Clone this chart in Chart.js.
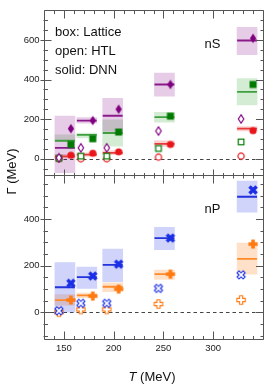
<!DOCTYPE html>
<html>
<head>
<meta charset="utf-8">
<script src="https://cdn.jsdelivr.net/npm/chart.js@4"></script>
<style>
    html, body { margin: 0; padding: 0; background: #fff; }
    canvas { display: block; }
</style>
</head>
<body>
<canvas id="widthCanvas" width="274" height="384"></canvas>
<script>
// Thermal widths of bottomonium, nS (top) and nP (bottom)
// box = lattice, open = HTL, solid = DNN

var temps = [151, 173, 199, 251, 334]; // MeV
var halfBin = 10;   // lattice boxes cover T +- 10 MeV
var shift = 6;      // HTL drawn left of T, DNN right of T

// nS panel
var lat1S   = [12, 21, 30, 75, 152];
var lat1SLo = [4, 12, 21, 62, 140];
var lat1SHi = [22, 30, 40, 90, 163];
var lat2S   = [91, 121, 130, 210, 338];
var lat2SLo = [88, 105, 63, 185, 272];
var lat2SHi = [121, 130, 196, 235, 405];
var lat3S   = [55, 193, 217, 375, 597];
var lat3SLo = [-70, 180, 138, 316, 525];
var lat3SHi = [216, 208, 305, 433, 663];
var dnn1S = [18, 28, 35, 72, 142];
var dnn2S = [72, 101, 135, 215, 375];
var dnn3S = [152, 193, 250, 375, 608];
var htl1S = [0, 0, 0, 8, 13];
var htl2S = [2, 13, 13, 52, 85];
var htl3S = [5, 55, 55, 140, 201];

// nP panel
var lat1P   = [52, 72, 109, 163, 229];
var lat1PLo = [30, 62, 88, 141, 163];
var lat1PHi = [75, 82, 126, 181, 296];
var lat2P   = [107, 150, 203, 318, 495];
var lat2PLo = [0, 102, 131, 268, 429];
var lat2PHi = [213, 193, 271, 364, 562];
var dnn1P = [52, 69, 99, 163, 292];
var dnn2P = [124, 155, 206, 318, 524];
var htl1P = [0, 12, 12, 35, 52];
var htl2P = [6, 38, 38, 102, 160];

// tick labels
var xTicks = [150, 200, 250, 300];
var yTicksS = [0, 200, 400, 600];
var yTicksP = [0, 200, 400];

var legendLines = ['box: Lattice', 'open: HTL', 'solid: DNN'];

var purple = '#800080', green = '#007a00', red = '#e8161b', blue = '#1a2ee6', orange = '#ff7a10';
var axisColor = '#555';
var fontFam = '"Liberation Sans", Arial, Helvetica, sans-serif';


// small canvases used as point styles
function makeMarker(draw) {
    var c = document.createElement('canvas');
    c.width = 14; c.height = 14;
    var g = c.getContext('2d');
    g.translate(7, 7);
    draw(g);
    return c;
}

function plusPath(g, a, w) {
    g.beginPath();
    g.moveTo(-w, -a); g.lineTo(w, -a); g.lineTo(w, -w); g.lineTo(a, -w);
    g.lineTo(a, w); g.lineTo(w, w); g.lineTo(w, a); g.lineTo(-w, a);
    g.lineTo(-w, w); g.lineTo(-a, w); g.lineTo(-a, -w); g.lineTo(-w, -w);
    g.closePath();
}

function diamondPath(g, w, h) {
    g.beginPath();
    g.moveTo(0, -h); g.lineTo(w, 0); g.lineTo(0, h); g.lineTo(-w, 0);
    g.closePath();
}

var mk = {
    diamondSolid: makeMarker(function (g) { diamondPath(g, 3.2, 4.8); g.fillStyle = purple; g.fill(); }),
    diamondOpen: makeMarker(function (g) { diamondPath(g, 2.7, 4.2); g.fillStyle = '#fff'; g.fill(); g.strokeStyle = purple; g.lineWidth = 1.2; g.stroke(); }),
    squareSolid: makeMarker(function (g) { g.fillStyle = green; g.fillRect(-3.5, -3.5, 7, 7); }),
    squareOpen: makeMarker(function (g) { g.fillStyle = '#fff'; g.fillRect(-2.8, -2.8, 5.6, 5.6); g.strokeStyle = green; g.lineWidth = 1.2; g.strokeRect(-2.8, -2.8, 5.6, 5.6); }),
    circleSolid: makeMarker(function (g) { g.beginPath(); g.arc(0, 0, 3.6, 0, 2 * Math.PI); g.fillStyle = red; g.fill(); }),
    circleOpen: makeMarker(function (g) { g.beginPath(); g.arc(0, 0, 3.1, 0, 2 * Math.PI); g.fillStyle = '#fff'; g.fill(); g.strokeStyle = red; g.lineWidth = 1.2; g.stroke(); }),
    crossSolid: makeMarker(function (g) { g.rotate(Math.PI / 4); plusPath(g, 5, 1.7); g.fillStyle = blue; g.fill(); }),
    crossOpen: makeMarker(function (g) { g.rotate(Math.PI / 4); plusPath(g, 4.3, 1.4); g.fillStyle = '#fff'; g.fill(); g.strokeStyle = blue; g.lineWidth = 1.1; g.stroke(); }),
    plusSolid: makeMarker(function (g) { plusPath(g, 4.6, 1.8); g.fillStyle = orange; g.fill(); }),
    plusOpen: makeMarker(function (g) { plusPath(g, 4.2, 1.6); g.fillStyle = '#fff'; g.fill(); g.strokeStyle = orange; g.lineWidth = 1.1; g.stroke(); })
};


function boxSet(lo, hi, axis, color) {
    return {
        type: 'bar',
        yAxisID: axis,
        data: temps.map(function (t, i) { return { x: t, y: [lo[i], hi[i]] }; }),
        backgroundColor: color,
        borderWidth: 0,
        barThickness: 20,
        grouped: false,
        order: 3
    };
}

function centralSet(vals, axis, color) {
    var pts = [];
    temps.forEach(function (t, i) {
        pts.push({ x: t - halfBin, y: vals[i] }, { x: t + halfBin, y: vals[i] }, { x: t + halfBin, y: null });
    });
    return {
        type: 'line',
        yAxisID: axis,
        data: pts,
        borderColor: color,
        borderWidth: 1.8,
        pointRadius: 0,
        spanGaps: false,
        order: 2
    };
}

function markerSet(vals, axis, dx, style) {
    return {
        type: 'scatter',
        yAxisID: axis,
        data: temps.map(function (t, i) { return { x: t + dx, y: vals[i] }; }),
        pointStyle: style,
        pointRadius: 5,
        order: 1
    };
}

var datasets = [
    boxSet(lat3SLo, lat3SHi, 'yS', 'rgba(128,0,128,0.2)'),
    boxSet(lat2SLo, lat2SHi, 'yS', 'rgba(0,140,0,0.17)'),
    boxSet(lat1SLo, lat1SHi, 'yS', 'rgba(235,20,20,0.2)'),
    boxSet(lat2PLo, lat2PHi, 'yP', 'rgba(40,60,230,0.22)'),
    boxSet(lat1PLo, lat1PHi, 'yP', 'rgba(255,130,30,0.24)'),

    centralSet(lat3S, 'yS', '#8a1a8a'),
    centralSet(lat2S, 'yS', '#3f9f3f'),
    centralSet(lat1S, 'yS', '#e83a3c'),
    centralSet(lat2P, 'yP', '#2233dd'),
    centralSet(lat1P, 'yP', '#ff8a2a'),

    markerSet(htl3S, 'yS', -shift, mk.diamondOpen),
    markerSet(htl2S, 'yS', -shift, mk.squareOpen),
    markerSet(htl1S, 'yS', -shift, mk.circleOpen),
    markerSet(dnn3S, 'yS', shift, mk.diamondSolid),
    markerSet(dnn2S, 'yS', shift, mk.squareSolid),
    markerSet(dnn1S, 'yS', shift, mk.circleSolid),
    markerSet(htl2P, 'yP', -shift, mk.crossOpen),
    markerSet(htl1P, 'yP', -shift, mk.plusOpen),
    markerSet(dnn2P, 'yP', shift, mk.crossSolid),
    markerSet(dnn1P, 'yP', shift, mk.plusSolid)
];


function crisp(v) { return Math.round(v) + 0.5; }

// frame, inward ticks (major + minor), zero lines and annotations
var framePlugin = {
    id: 'frame',
    beforeDatasetsDraw: function (chart) {
        var ctx = chart.ctx, a = chart.chartArea;
        ctx.save();
        ctx.strokeStyle = '#444';
        ctx.lineWidth = 1;
        ctx.setLineDash([3.5, 3]);
        ['yS', 'yP'].forEach(function (id) {
            var y = crisp(chart.scales[id].getPixelForValue(0));
            ctx.beginPath();
            ctx.moveTo(a.left, y);
            ctx.lineTo(a.right, y);
            ctx.stroke();
        });
        ctx.restore();
    },
    afterDraw: function (chart) {
        var ctx = chart.ctx, a = chart.chartArea;
        var xs = chart.scales.x, yS = chart.scales.yS, yP = chart.scales.yP;
        var mid = crisp(yS.bottom);
        var L = crisp(a.left), R = crisp(a.right), T = crisp(a.top), B = crisp(a.bottom);
        ctx.save();
        ctx.strokeStyle = axisColor;
        ctx.lineWidth = 1;
        ctx.beginPath();
        ctx.rect(L, T, R - L, B - T);
        ctx.moveTo(L, mid); ctx.lineTo(R, mid);
        ctx.stroke();

        ctx.beginPath();
        for (var v = xs.min; v <= xs.max; v += 10) {
            var px = crisp(xs.getPixelForValue(v));
            var major = v % 50 === 0;
            var len = major ? 8 : 3.5;
            ctx.moveTo(px, B); ctx.lineTo(px, B - len);
            ctx.moveTo(px, T); ctx.lineTo(px, T + len);
            ctx.moveTo(px, mid - (major ? 6 : 2.5)); ctx.lineTo(px, mid + (major ? 8 : 3));
        }
        [yS, yP].forEach(function (s) {
            for (var w = Math.ceil(s.min / 50) * 50; w <= s.max; w += 50) {
                var py = crisp(s.getPixelForValue(w));
                if (py <= s.top + 1 || py >= s.bottom - 1) continue;
                var maj = w % 200 === 0;
                ctx.moveTo(L - (maj ? 4 : 1), py); ctx.lineTo(L + (maj ? 7 : 3.5), py);
                ctx.moveTo(R, py); ctx.lineTo(R - (maj ? 7.5 : 3), py);
            }
        });
        ctx.stroke();

        // annotations
        ctx.fillStyle = '#111';
        ctx.font = '13px ' + fontFam;
        ctx.textBaseline = 'middle';
        ctx.textAlign = 'left';
        legendLines.forEach(function (txt, i) {
            ctx.fillText(txt, a.left + 11, a.top + 22 + i * 19.2);
        });
        ctx.textAlign = 'right';
        ctx.fillText('nS', a.right - 42.5, yS.top + 34.5);
        ctx.fillText('nP', a.right - 42.5, yP.top + 34.5);

        // x title with italic T
        ctx.textAlign = 'left';
        var tPart = 'T', rest = ' (MeV)';
        ctx.font = 'italic 13px ' + fontFam;
        var w1 = ctx.measureText(tPart).width;
        ctx.font = '13px ' + fontFam;
        var w2 = ctx.measureText(rest).width;
        var x0 = (a.left + a.right) / 2 - 1.5 - (w1 + w2) / 2;
        ctx.font = 'italic 13px ' + fontFam;
        ctx.fillText(tPart, x0, 377.5);
        ctx.font = '13px ' + fontFam;
        ctx.fillText(rest, x0 + w1, 377.5);

        // y title across both panels
        ctx.save();
        ctx.translate(12.5, 171.5);
        ctx.rotate(-Math.PI / 2);
        ctx.textAlign = 'center';
        ctx.fillText('\u0393 (MeV)', 0, 0);
        ctx.restore();
        ctx.restore();
    }
};


function yScale(min, max, weight, tickVals) {
    return {
        type: 'linear',
        position: 'left',
        stack: 'panels',
        stackWeight: 1,
        weight: weight,
        min: min,
        max: max,
        afterBuildTicks: function (s) { s.ticks = tickVals.map(function (v) { return { value: v }; }); },
        afterFit: function (s) { s.width = 44; },
        grid: { display: false, drawTicks: false },
        border: { display: false },
        ticks: {
            autoSkip: false,
            padding: 4.5,
            color: '#222',
            font: { family: fontFam, size: 9.5 }
        }
    };
}

var chart = new Chart(document.getElementById('widthCanvas').getContext('2d'), {
    type: 'scatter',
    data: { datasets: datasets },
    options: {
        responsive: false,
        animation: false,
        devicePixelRatio: 1,
        layout: { padding: { left: 0, right: 11, top: 10, bottom: 0 } },
        plugins: { legend: { display: false }, tooltip: { enabled: false } },
        scales: {
            x: {
                type: 'linear',
                min: 130,
                max: 350,
                offset: false,
                afterBuildTicks: function (s) { s.ticks = xTicks.map(function (v) { return { value: v }; }); },
                afterFit: function (s) { s.height = 45; },
                grid: { display: false, drawTicks: false, offset: false },
                border: { display: false },
                ticks: {
                    padding: 4,
                    maxRotation: 0,
                    autoSkip: false,
                    color: '#222',
                    font: { family: fontFam, size: 9.5 }
                }
            },
            yP: yScale(-115, 590, 1, yTicksP),
            yS: yScale(-80, 750, 2, yTicksS)
        }
    },
    plugins: [framePlugin]
});
</script>
</body>
</html>
